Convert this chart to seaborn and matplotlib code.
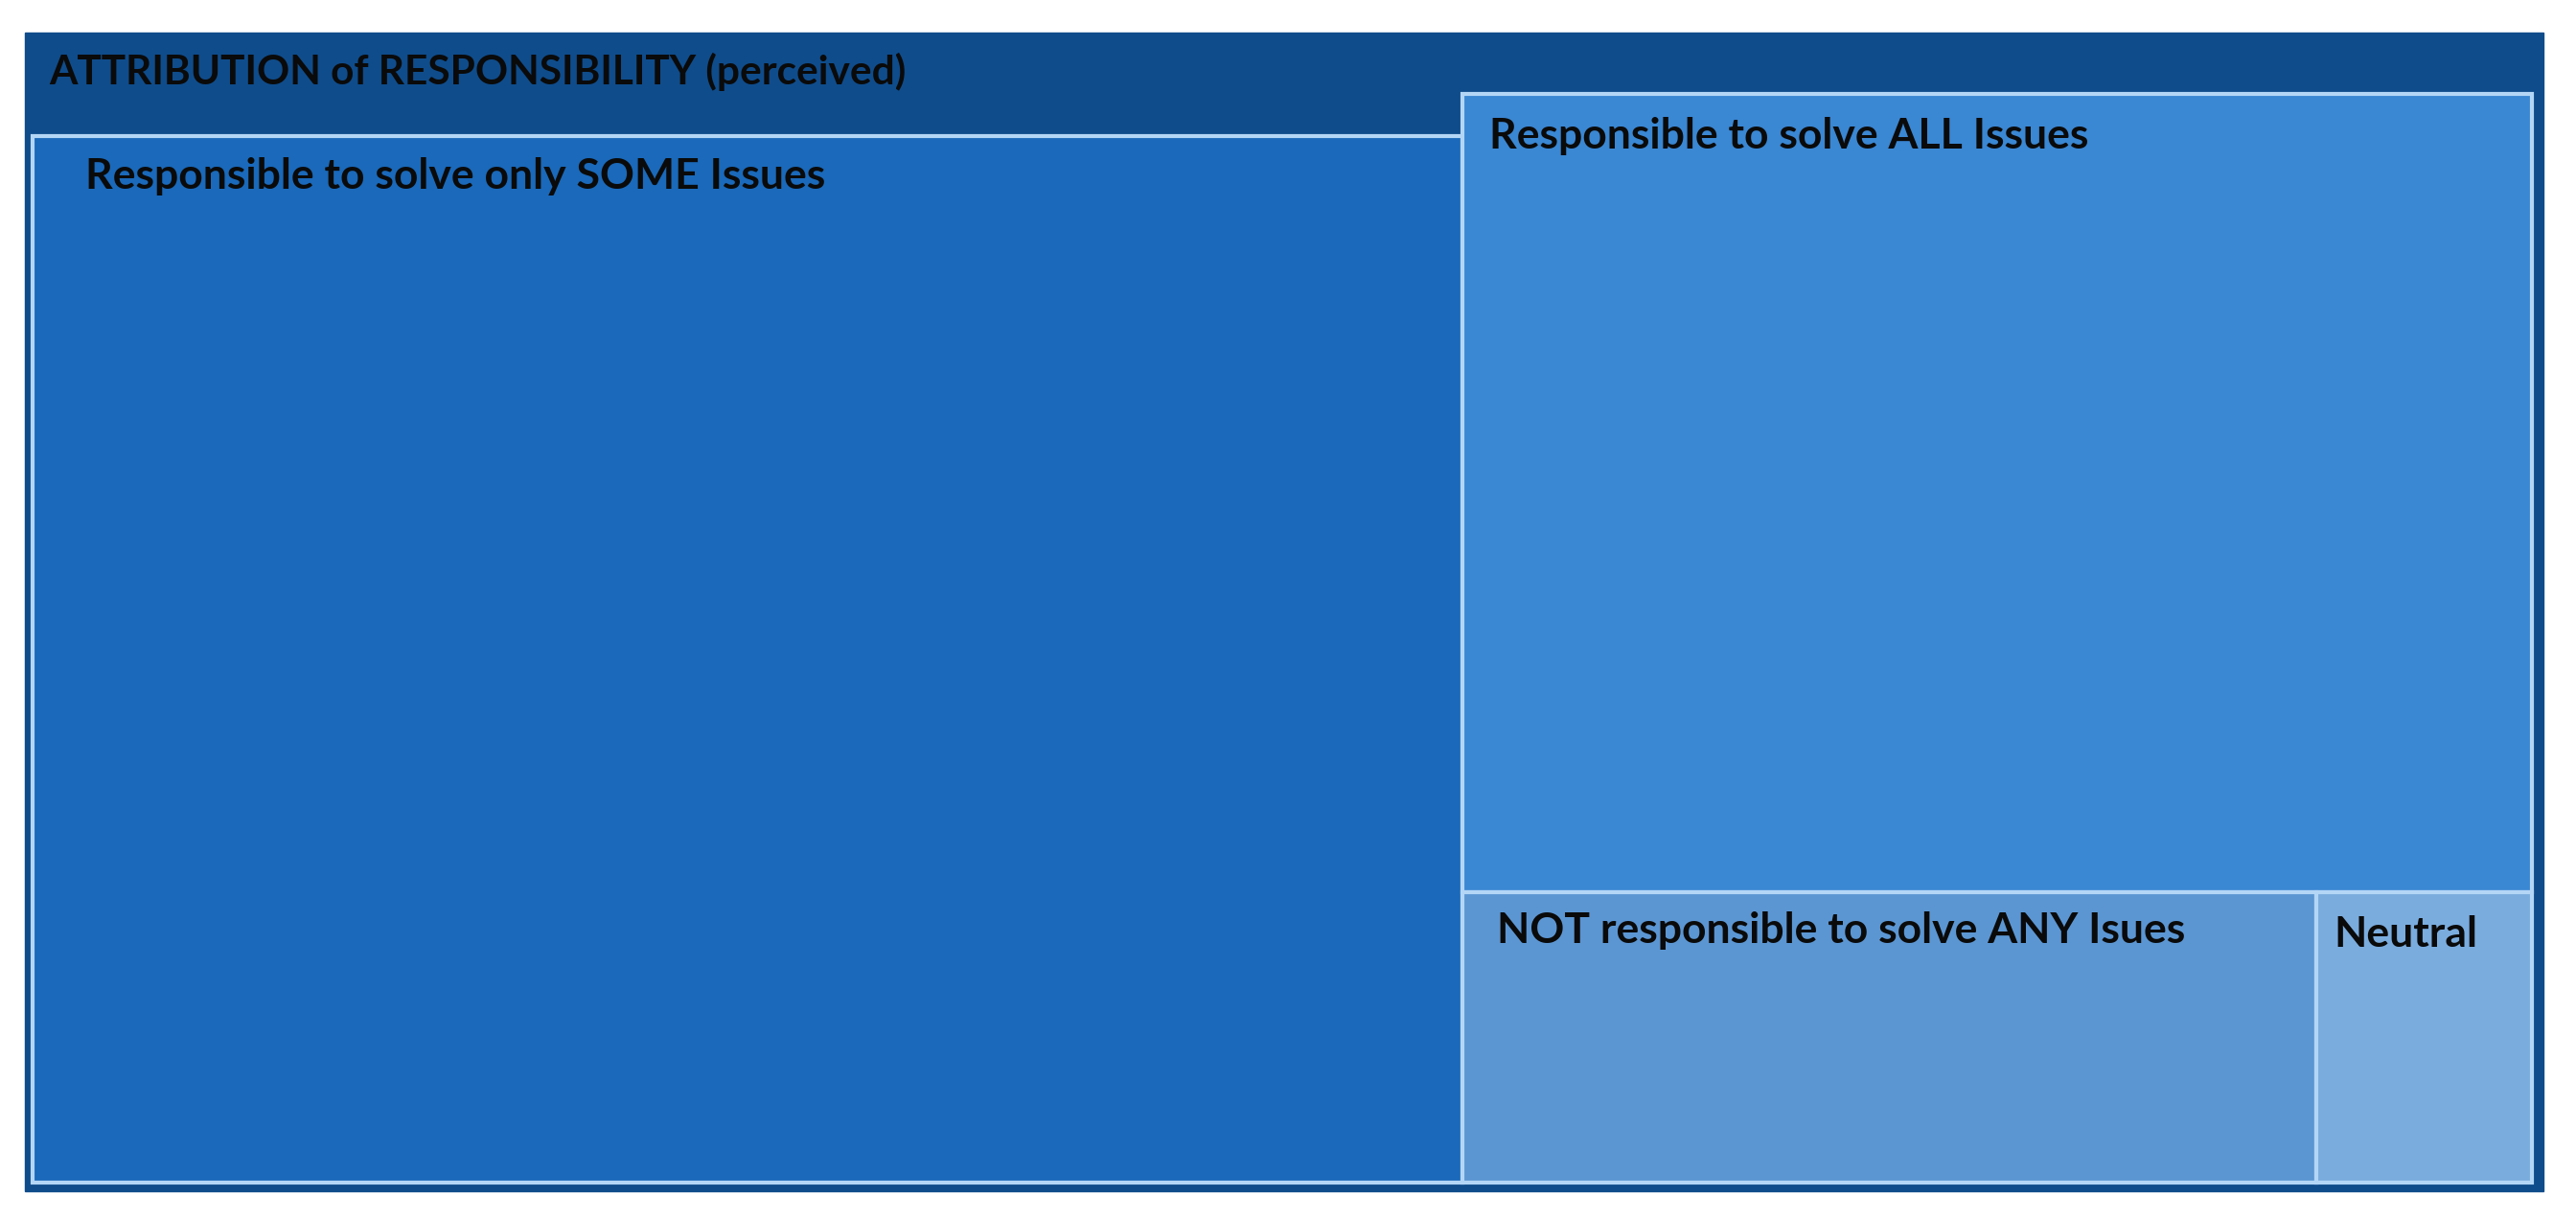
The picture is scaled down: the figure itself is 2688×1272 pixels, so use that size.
import matplotlib
matplotlib.use("Agg")
import matplotlib.pyplot as plt
from matplotlib.patches import Rectangle
from matplotlib import font_manager
import seaborn as sns

# treemap data (area shares)
title = "ATTRIBUTION of RESPONSIBILITY (perceived)"
labels = ["Responsible to solve only SOME Issues",
          "Responsible to solve ALL Issues",
          "NOT responsible to solve ANY Isues",
          "Neutral"]
values = [57.2, 31.4, 9.1, 2.3]
colors = ["#1A69BA", "#3A87D3", "#5B96D3", "#7AACDE"]

sns.set_theme(style="white")
names = {f.name for f in font_manager.fontManager.ttflist}
fam = "Liberation Sans Narrow" if "Liberation Sans Narrow" in names else "Lato"
plt.rcParams["font.family"] = [fam, "DejaVu Sans"]

W_PX, H_PX = 2688, 1272
fig = plt.figure(figsize=(W_PX / 100, H_PX / 100), dpi=100)
ax = fig.add_axes([0, 0, 1, 1])
ax.set_xlim(0, W_PX)
ax.set_ylim(H_PX, 0)
ax.axis("off")

navy = "#0F4C8B"
edge = "#B4D6F6"

# outer frame + header band
ax.add_patch(Rectangle((26, 34), 2628, 1209, facecolor=navy, edgecolor=navy, lw=1, zorder=0))
header_bottom = 142

# slice-and-dice layout: SOME | (ALL over (NOT | Neutral))
x0, y0, x1, y1 = 34, 98, 2642, 1234
W, H = x1 - x0, y1 - y0
total = sum(values)
w_left = W * values[0] / total
w_right = W - w_left
h_top = H * values[1] / sum(values[1:])
w_not = w_right * values[2] / sum(values[2:])

cells = [
    (x0, header_bottom, w_left, y1 - header_bottom),
    (x0 + w_left, y0, w_right, h_top),
    (x0 + w_left, y0 + h_top, w_not, H - h_top),
    (x0 + w_left + w_not, y0 + h_top, w_right - w_not, H - h_top),
]
pads = [(55, 42), (28, 44), (36, 40), (19, 44)]

fs = 32
for (cx, cy, cw, ch), lab, col, (px, py) in zip(cells, labels, colors, pads):
    ax.add_patch(Rectangle((cx, cy), cw, ch, facecolor=col, edgecolor=edge, lw=3, zorder=2))
    ax.text(cx + px, cy + py, lab, fontsize=fs, fontweight="bold", color="#0A0A0A",
            ha="left", va="center", zorder=3)

ax.text(51, 75, title, fontsize=30.5, fontweight="bold", color="#0A0A0A",
        ha="left", va="center", zorder=3)

fig.savefig("out.png", dpi=100, facecolor="white")
